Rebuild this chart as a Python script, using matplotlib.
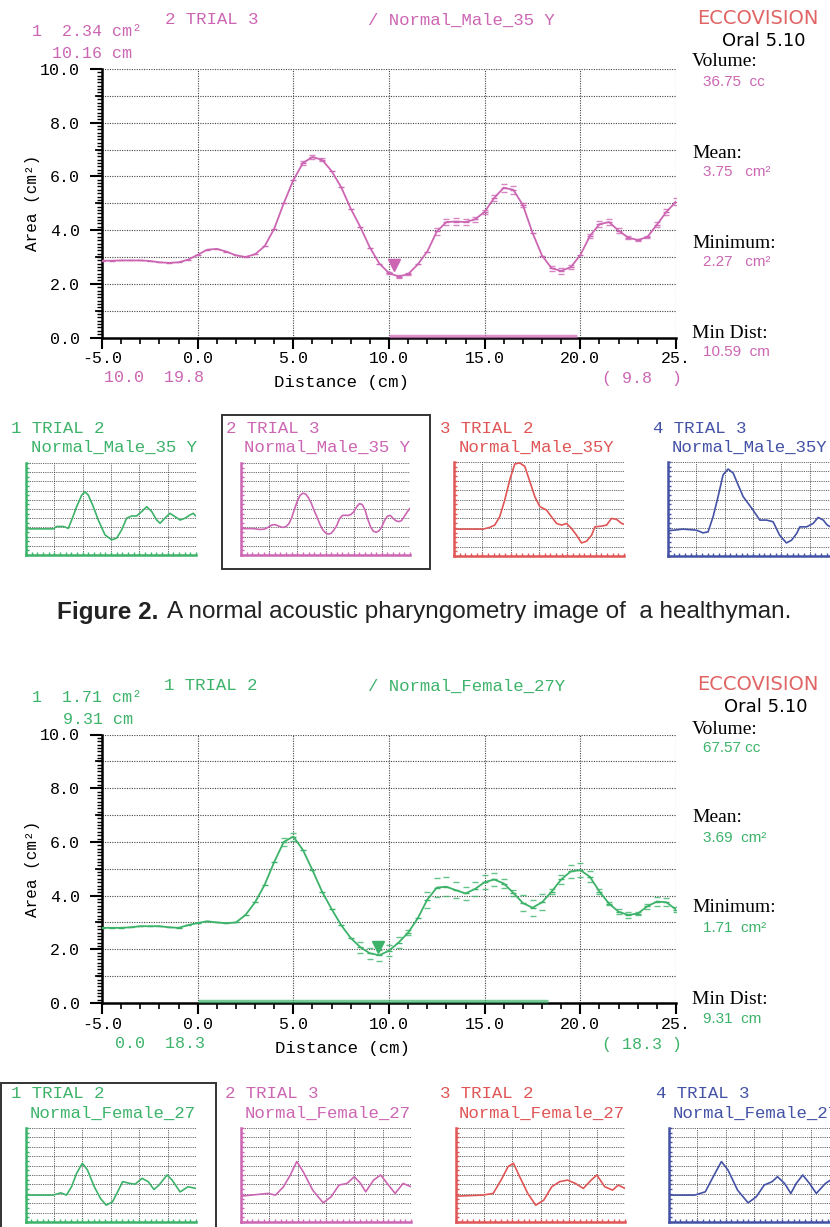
import matplotlib
matplotlib.use('Agg')
import matplotlib.pyplot as plt
from matplotlib.patches import Rectangle
from matplotlib.ticker import MultipleLocator, FixedLocator, NullFormatter
import numpy as np

# ---------------- data ----------------
dist = [-5, -4.5, -4, -3.5, -3, -2.5, -2, -1.5, -1, -0.5, 0, 0.5, 1, 1.5, 2, 2.5,
        3, 3.5, 4, 4.5, 5, 5.5, 6, 6.5, 7, 7.5, 8, 8.5, 9, 9.5, 10, 10.5, 11, 11.5,
        12, 12.5, 13, 13.5, 14, 14.5, 15, 15.5, 16, 16.5, 17, 17.5, 18, 18.5, 19,
        19.5, 20, 20.5, 21, 21.5, 22, 22.5, 23, 23.5, 24, 24.5, 25]

male_area = [2.86, 2.86, 2.87, 2.87, 2.87, 2.85, 2.80, 2.78, 2.80, 2.90, 3.08, 3.27,
             3.30, 3.20, 3.06, 3.00, 3.10, 3.40, 4.05, 5.00, 5.86, 6.50, 6.72, 6.62,
             6.20, 5.60, 4.80, 4.12, 3.35, 2.75, 2.40, 2.27, 2.36, 2.72, 3.20, 3.95,
             4.30, 4.32, 4.30, 4.40, 4.68, 5.20, 5.58, 5.50, 4.93, 3.90, 3.05, 2.58,
             2.48, 2.62, 3.07, 3.78, 4.22, 4.30, 3.98, 3.72, 3.63, 3.74, 4.20, 4.68, 5.06]
male_spread = [0, 0, 0, 0, 0, 0, 0, 0, 0, 0, 0, 0, 0, 0, 0, 0,
               0, 0, 0, 0, 0, 0.06, 0.08, 0.05, 0, 0, 0, 0, 0, 0, 0.05, 0.07, 0.05, 0,
               0, 0.12, 0.12, 0.12, 0.12, 0.10, 0.08, 0.12, 0.15, 0.15, 0.08, 0, 0, 0.10, 0.10,
               0.08, 0, 0.06, 0.12, 0.12, 0.08, 0.06, 0.05, 0.05, 0.10, 0.12, 0.12]

female_area = [2.80, 2.80, 2.80, 2.82, 2.86, 2.86, 2.86, 2.82, 2.80, 2.90, 2.98, 3.04,
               3.00, 2.97, 3.00, 3.28, 3.75, 4.40, 5.25, 6.00, 6.20, 5.70, 4.95, 4.15,
               3.50, 2.90, 2.42, 2.08, 1.85, 1.78, 1.95, 2.25, 2.62, 3.15, 3.85, 4.30,
               4.33, 4.20, 4.08, 4.25, 4.50, 4.60, 4.45, 4.10, 3.72, 3.55, 3.75, 4.15,
               4.60, 4.90, 4.95, 4.70, 4.15, 3.70, 3.40, 3.28, 3.33, 3.60, 3.78, 3.75, 3.48]
female_spread = [0, 0, 0, 0, 0, 0, 0, 0, 0, 0, 0, 0, 0, 0, 0, 0,
                 0, 0, 0, 0.15, 0.15, 0, 0, 0, 0, 0, 0, 0.2, 0.2, 0.2, 0.2, 0.2, 0.1, 0,
                 0.3, 0.35, 0.35, 0.3, 0.25, 0.25, 0.25, 0.25, 0.15, 0.1, 0.3, 0.3, 0.3, 0.1,
                 0.15, 0.25, 0.25, 0.2, 0.1, 0.05, 0.1, 0.1, 0.05, 0.1, 0.15, 0.15, 0.1]

# thumbnails - male
m_t1_x = [-5, -0.18, 0.41, 1.6, 2.47, 3.06, 3.94, 4.82, 5.41, 6.0, 6.88, 7.76, 8.94, 10.12,
          11.0, 11.88, 12.76, 13.65, 14.5, 15.4, 16.3, 17.2, 18.06, 18.65, 19.5, 20.4,
          21.3, 22.2, 23.06, 23.94, 24.5, 25]
m_t1_y = [2.84, 2.84, 3.1, 3.1, 2.9, 3.8, 5.25, 6.5, 6.87, 6.5, 5.25, 3.8, 2.19, 1.65,
          1.83, 2.73, 4.0, 4.24, 4.24, 4.71, 5.25, 4.71, 3.8, 3.45, 4.0, 4.53,
          4.17, 3.8, 4.0, 4.35, 4.53, 4.24]
m_t3_x = [-5, 0.13, 1.3, 2.19, 3.07, 3.96, 4.84, 5.72, 6.6, 7.49, 8.38, 9.26, 10.14, 11.32,
          12.2, 13.1, 14.0, 14.86, 15.74, 16.63, 17.5, 18.4, 19.28, 19.87, 21.05, 21.93,
          22.8, 23.7, 24.58, 25]
m_t3_y = [2.86, 2.86, 3.04, 3.29, 4.18, 5.96, 8.1, 9.79, 9.9, 9.54, 7.93, 6.32, 5.25, 4.89,
          4.18, 3.46, 3.29, 3.46, 2.93, 2.21, 1.39, 1.57, 2.21, 3.1, 3.18, 3.29,
          4.0, 3.89, 3.46, 3.39]
m_t4_x = [-5, -2.35, 0.0, 1.2, 2.07, 2.96, 3.84, 4.72, 5.6, 6.5, 7.37, 8.26, 9.14, 10.0,
          11.2, 12.4, 13.55, 14.7, 15.9, 16.8, 17.7, 18.27, 19.45, 20.6, 21.5, 22.4,
          23.1, 24.0, 25]
m_t4_y = [2.68, 2.86, 2.75, 2.46, 2.57, 4.18, 6.32, 8.64, 9.25, 8.82, 7.57, 6.32, 5.6, 4.89,
          3.82, 3.82, 3.64, 2.21, 1.39, 1.68, 2.39, 3.1, 3.1, 3.46, 4.1, 3.82,
          3.29, 3.0, 3.2]

# thumbnails - female
f_t1_x = [-5, -0.15, 1.24, 2.2, 3.1, 4.0, 5.0, 5.9, 7.1, 8.2, 9.2, 10.3, 11.2, 12.1,
          13.4, 14.3, 15.5, 16.6, 17.6, 18.5, 19.9, 20.8, 22.2, 23.6, 25]
f_t1_y = [2.86, 2.86, 3.1, 2.86, 3.75, 5.18, 6.25, 5.54, 3.75, 2.5, 1.79, 2.14, 3.2, 4.3,
          4.1, 4.03, 4.64, 4.29, 3.46, 3.93, 5.0, 4.46, 3.2, 3.75, 3.57]
f_t2_x = [-5, -0.3, 1.1, 2.5, 3.7, 4.84, 5.97, 7.65, 9.5, 10.9, 12.3, 13.7, 15.0, 16.1,
          17.0, 18.4, 19.65, 20.8, 22.2, 23.6, 25]
f_t2_y = [2.75, 3.04, 2.86, 3.75, 5.0, 6.43, 5.36, 3.39, 2.04, 2.68, 3.93, 4.1, 4.82, 4.1,
          3.21, 4.46, 5.0, 4.1, 3.04, 4.1, 3.75]
f_t3_x = [-5, -0.28, 1.6, 3.0, 4.25, 5.2, 6.3, 7.74, 9.15, 10.57, 12.0, 13.4, 14.8, 16.2,
          17.6, 19.0, 20.0, 21.4, 22.8, 23.8, 25]
f_t3_y = [2.75, 2.86, 3.04, 4.46, 5.89, 6.25, 4.82, 3.04, 1.79, 2.32, 3.75, 4.29, 4.46, 4.1,
          3.57, 4.46, 5.0, 3.75, 3.39, 3.93, 3.57]
f_t4_x = [-5, -0.47, 1.4, 2.8, 4.25, 5.4, 7.1, 8.96, 10.4, 11.8, 13.2, 14.15, 15.4, 16.5,
          17.45, 18.6, 19.8, 21.0, 22.6, 23.5, 25]
f_t4_y = [2.86, 2.86, 3.21, 4.82, 6.43, 5.54, 3.39, 2.04, 2.68, 3.93, 4.29, 4.82, 4.1, 3.04,
          4.1, 5.0, 4.1, 3.04, 4.1, 4.46, 4.0]

y_tick_labels = ['0.0', '2.0', '4.0', '6.0', '8.0', '10.0']
x_tick_labels = ['-5.0', '0.0', '5.0', '10.0', '15.0', '20.0', '25.']

# ---------------- styling ----------------
PINK = '#cc66b3'
GREEN = '#3db36a'
RED = '#e05555'
BLUE = '#4452a6'
ECCO = '#e06464'
MONO = 'Liberation Mono'

W, H = 830, 1227
fig = plt.figure(figsize=(W / 100, H / 100), dpi=100)
fig.patch.set_facecolor('white')


def fx(x):
    return x / W


def fy(y):
    return 1 - y / H


def add_axes_px(l, t, r, b):
    return fig.add_axes([fx(l), fy(b), (r - l) / W, (b - t) / H])


def txt(x, y, s, **kw):
    kw.setdefault('va', 'center')
    kw.setdefault('ha', 'left')
    return fig.text(fx(x), fy(y), s, **kw)


GRID_KW = dict(color='#444444', ls=(0, (1, 1.2)), lw=0.8, zorder=1)


def main_chart(top, x, y, spread, color, span, min_pt):
    ax = add_axes_px(102, top, 676, top + 268.5)
    ax.set_xlim(-5, 25)
    ax.set_ylim(0, 10)
    ax.patch.set_alpha(0)
    for gx in [0, 5, 10, 15, 20, 25]:
        ax.axvline(gx, **GRID_KW)
    for gy in range(1, 11):
        ax.axhline(gy, **GRID_KW)
    ax.plot(x, y, color=color, lw=1.3, marker='_', ms=4, mew=1.0, zorder=4)
    ux = [a for a, s in zip(x, spread) if s > 0]
    uy = [b + s for b, s in zip(y, spread) if s > 0]
    ly = [b - s for b, s in zip(y, spread) if s > 0]
    ax.plot(ux, uy, ls='none', marker='_', ms=4, mew=1.0, color=color, alpha=0.8, zorder=4)
    ax.plot(ux, ly, ls='none', marker='_', ms=4, mew=1.0, color=color, alpha=0.8, zorder=4)
    ax.plot(span, [0.06, 0.06], color=color, lw=2.5, alpha=0.7, clip_on=False,
            solid_capstyle='butt', zorder=5)
    ax.plot([min_pt[0]], [min_pt[1]], marker='v', ms=8, color=color, ls='none', zorder=6)
    for s in ['top', 'right']:
        ax.spines[s].set_visible(False)
    for s in ['left', 'bottom']:
        ax.spines[s].set_linewidth(1.8)
        ax.spines[s].set_color('black')
    ax.xaxis.set_major_locator(FixedLocator([-5, 0, 5, 10, 15, 20, 25]))
    ax.set_xticklabels(x_tick_labels)
    ax.xaxis.set_minor_locator(MultipleLocator(1))
    ax.yaxis.set_major_locator(FixedLocator([0, 2, 4, 6, 8, 10]))
    ax.set_yticklabels(y_tick_labels)
    ax.yaxis.set_minor_locator(MultipleLocator(0.125))
    ax.tick_params(axis='x', which='major', length=8, width=1.5, direction='out', pad=2,
                   labelsize=12, labelfontfamily=MONO)
    ax.tick_params(axis='x', which='minor', length=4, width=1.2, direction='out')
    ax.tick_params(axis='y', which='major', length=9, width=1.5, direction='out', pad=7,
                   labelsize=12, labelfontfamily=MONO)
    ax.tick_params(axis='y', which='minor', length=3.5, width=1.0, direction='out')
    # medium ticks at odd integers
    for v in [1, 3, 5, 7, 9]:
        ax.plot([-0.011, 0], [v, v], color='black', lw=1.3, clip_on=False,
                transform=ax.get_yaxis_transform(), zorder=5)
    return ax


def thumb(l, t, r, b, x, y, color):
    ax = add_axes_px(l, t, r, b)
    ax.set_xlim(-5, 25)
    ax.set_ylim(0, 10)
    ax.patch.set_alpha(0)
    gk = dict(color='#333333', ls=(0, (1, 1.2)), lw=0.6, zorder=1)
    for gx in [0, 5, 10, 15, 20, 25]:
        ax.axvline(gx, **gk)
    for gy in range(1, 11):
        ax.axhline(gy, **gk)
    ax.plot(x, y, color=color, lw=1.2, zorder=3, clip_on=True)
    for s in ['top', 'right']:
        ax.spines[s].set_visible(False)
    for s in ['left', 'bottom']:
        ax.spines[s].set_linewidth(1.8)
        ax.spines[s].set_color(color)
    ax.xaxis.set_major_locator(MultipleLocator(1))
    ax.yaxis.set_major_locator(MultipleLocator(0.5))
    ax.xaxis.set_major_formatter(NullFormatter())
    ax.yaxis.set_major_formatter(NullFormatter())
    ax.tick_params(which='both', length=2, width=1, color=color, direction='in')
    return ax


# ---------------- top (male) chart ----------------
main_chart(69, dist, male_area, male_spread, PINK, [10.0, 19.8], (10.24, 2.7))
txt(32, 32, '1  2.34 cm²', color=PINK, fontfamily=MONO, fontsize=12)
txt(52, 53, '10.16 cm', color=PINK, fontfamily=MONO, fontsize=12)
txt(165, 20, '2 TRIAL 3', color=PINK, fontfamily=MONO, fontsize=12.5)
txt(368, 20, '/ Normal_Male_35 Y', color=PINK, fontfamily=MONO, fontsize=12.5)
txt(104, 378, '10.0  19.8', color=PINK, fontfamily=MONO, fontsize=12)
txt(602, 378, '( 9.8  )', color=PINK, fontfamily=MONO, fontsize=12)
txt(341, 382, 'Distance (cm)', color='black', fontfamily=MONO, fontsize=12.5, ha='center')
txt(32, 203, 'Area (cm²)', color='black', fontfamily=MONO, fontsize=11.5, ha='center',
    rotation=90)

txt(697, 19, 'ECCOVISION', color=ECCO, fontfamily='DejaVu Sans', fontsize=14)
txt(722, 41, 'Oral 5.10', color='black', fontfamily='DejaVu Sans', fontsize=13)
txt(692, 62, 'Volume:', color='black', fontfamily='Liberation Serif', fontsize=14)
txt(703, 82, '36.75  cc', color=PINK, fontfamily='Liberation Sans', fontsize=11)
txt(692, 153, 'Mean:', color='black', fontfamily='Liberation Serif', fontsize=14)
txt(703, 172, '3.75   cm²', color=PINK, fontfamily='Liberation Sans', fontsize=11)
txt(692, 243, 'Minimum:', color='black', fontfamily='Liberation Serif', fontsize=14)
txt(703, 262, '2.27   cm²', color=PINK, fontfamily='Liberation Sans', fontsize=11)
txt(692, 333, 'Min Dist:', color='black', fontfamily='Liberation Serif', fontsize=14)
txt(703, 352, '10.59  cm', color=PINK, fontfamily='Liberation Sans', fontsize=11)

# ---------------- thumbnails row 1 ----------------
thumb(26, 463, 196, 555, m_t1_x, m_t1_y, GREEN)
thumb(241, 463, 410, 555, dist, male_area, PINK)
thumb(454, 462, 624, 556, m_t3_x, m_t3_y, RED)
thumb(668, 462, 838, 556, m_t4_x, m_t4_y, BLUE)
row1 = [(11, 31, '1 TRIAL 2', 'Normal_Male_35 Y', GREEN),
        (226, 244, '2 TRIAL 3', 'Normal_Male_35 Y', PINK),
        (440, 459, '3 TRIAL 2', 'Normal_Male_35Y', RED),
        (653, 672, '4 TRIAL 3', 'Normal_Male_35Y', BLUE)]
for x1, x2, a, b, c in row1:
    txt(x1, 428, a, color=c, fontfamily=MONO, fontsize=12.5)
    txt(x2, 447, b, color=c, fontfamily=MONO, fontsize=12.5)
fig.patches.append(Rectangle((fx(222), fy(569)), (430 - 222) / W, (569 - 415) / H,
                             transform=fig.transFigure, fill=False, ec='#333333', lw=1.4))

# ---------------- caption ----------------
t1 = txt(57, 612, 'Figure 2.', color='#222222', fontfamily='Liberation Sans', fontsize=17.5,
         fontweight='bold')
fig.canvas.draw()
bb = t1.get_window_extent()
txt(bb.x1 + 9, 612, 'A normal acoustic pharyngometry image of  a healthyman.', color='#222222',
    fontfamily='Liberation Sans', fontsize=17.5)

# ---------------- bottom (female) chart ----------------
main_chart(734.5, dist, female_area, female_spread, GREEN, [0.0, 18.3], (9.4, 2.09))
txt(32, 697, '1  1.71 cm²', color=GREEN, fontfamily=MONO, fontsize=12)
txt(63, 719, '9.31 cm', color=GREEN, fontfamily=MONO, fontsize=12)
txt(164, 686, '1 TRIAL 2', color=GREEN, fontfamily=MONO, fontsize=12.5)
txt(368, 686, '/ Normal_Female_27Y', color=GREEN, fontfamily=MONO, fontsize=12.5)
txt(115, 1044, '0.0  18.3', color=GREEN, fontfamily=MONO, fontsize=12)
txt(602, 1044, '( 18.3 )', color=GREEN, fontfamily=MONO, fontsize=12)
txt(342, 1048, 'Distance (cm)', color='black', fontfamily=MONO, fontsize=12.5, ha='center')
txt(32, 869, 'Area (cm²)', color='black', fontfamily=MONO, fontsize=11.5, ha='center',
    rotation=90)

txt(697, 685, 'ECCOVISION', color=ECCO, fontfamily='DejaVu Sans', fontsize=14)
txt(724, 707, 'Oral 5.10', color='black', fontfamily='DejaVu Sans', fontsize=13)
txt(692, 729, 'Volume:', color='black', fontfamily='Liberation Serif', fontsize=14)
txt(703, 748, '67.57 cc', color=GREEN, fontfamily='Liberation Sans', fontsize=11)
txt(692, 818, 'Mean:', color='black', fontfamily='Liberation Serif', fontsize=14)
txt(703, 838, '3.69  cm²', color=GREEN, fontfamily='Liberation Sans', fontsize=11)
txt(692, 908, 'Minimum:', color='black', fontfamily='Liberation Serif', fontsize=14)
txt(703, 928, '1.71  cm²', color=GREEN, fontfamily='Liberation Sans', fontsize=11)
txt(692, 999, 'Min Dist:', color='black', fontfamily='Liberation Serif', fontsize=14)
txt(703, 1019, '9.31  cm', color=GREEN, fontfamily='Liberation Sans', fontsize=11)

# ---------------- thumbnails row 2 ----------------
thumb(25.5, 1128, 196, 1222, f_t1_x, f_t1_y, GREEN)
thumb(241, 1128, 411, 1222, f_t2_x, f_t2_y, PINK)
thumb(456, 1128, 625, 1222, f_t3_x, f_t3_y, RED)
thumb(669, 1128, 839, 1222, f_t4_x, f_t4_y, BLUE)
row2 = [(11, 30, '1 TRIAL 2', 'Normal_Female_27', GREEN),
        (225, 245, '2 TRIAL 3', 'Normal_Female_27', PINK),
        (440, 459, '3 TRIAL 2', 'Normal_Female_27', RED),
        (656, 673, '4 TRIAL 3', 'Normal_Female_27', BLUE)]
for x1, x2, a, b, c in row2:
    txt(x1, 1094, a, color=c, fontfamily=MONO, fontsize=12.5)
    txt(x2, 1113, b, color=c, fontfamily=MONO, fontsize=12.5)
fig.patches.append(Rectangle((fx(1), fy(1232)), (216 - 1) / W, (1232 - 1083) / H,
                             transform=fig.transFigure, fill=False, ec='#333333', lw=1.4))

fig.savefig('out.png', dpi=100, facecolor='white')
